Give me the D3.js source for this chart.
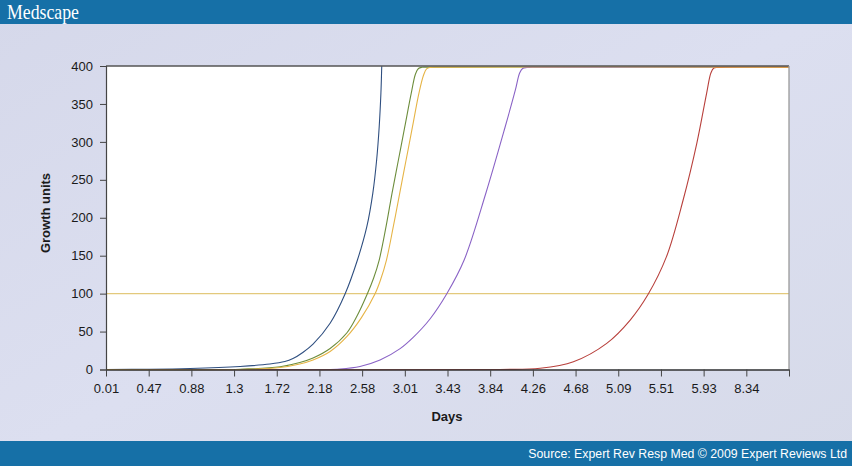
<!DOCTYPE html>
<html>
<head>
<meta charset="utf-8">
<script src="https://cdn.jsdelivr.net/npm/d3@7"></script>
<style>
html,body{margin:0;padding:0;}
body{width:852px;height:466px;overflow:hidden;}
</style>
</head>
<body>
<svg id="chart" width="852" height="466"></svg>
<script>
// ---- data ----
const dayLabels = ["0.01","0.47","0.88","1.3","1.72","2.18","2.58","3.01","3.43","3.84","4.26","4.68","5.09","5.51","5.93","8.34"];
const yTicks = [0,50,100,150,200,250,300,350,400];
const threshold = 100;
// each series: [position along day axis (tick index), growth units]
const blueSeries = [[0,0],[1.03,0.3],[1.97,1.3],[3.14,4.0],[3.84,7.2],[4.19,10.5],[4.38,14.5],[4.61,22.5],[4.85,33.5],[5.25,61],[5.60,99.5],[5.89,144.3],[6.11,188.2],[6.25,232.2],[6.34,276.1],[6.40,320],[6.44,364],[6.46,400],[6.48,434]];
const greenSeries = [[0,0],[3.14,0.3],[4.08,3.7],[4.54,9.2],[4.85,15.2],[5.25,27.7],[5.64,48.1],[5.88,70.5],[6.12,99.5],[6.27,120.6],[6.40,144.3],[6.56,188.2],[6.70,232.2],[6.85,276.1],[7.00,320],[7.15,364],[7.25,389.5],[7.32,396.7],[7.40,398.3],[7.52,398.5],[16,398.5]];
const yellowSeries = [[0,0],[3.37,0.3],[4.08,2.6],[4.54,7.2],[4.85,12.5],[5.25,23.7],[5.64,43.2],[5.98,68],[6.30,99.5],[6.43,118],[6.57,144.3],[6.73,188.2],[6.88,232.2],[7.03,276.1],[7.18,320],[7.33,364],[7.44,388.1],[7.51,396.1],[7.59,398],[7.73,398.5],[16,398.5]];
const purpleSeries = [[0,0],[5.01,0],[5.48,0.7],[5.95,4.0],[6.42,12.5],[6.89,27.5],[7.19,42],[7.59,66.6],[7.98,99.5],[8.39,144.3],[8.90,232.6],[9.35,319.6],[9.59,368.4],[9.69,390.8],[9.76,396.7],[9.86,398],[10.0,398.5],[16,398.5]];
const redSeries = [[0,0],[9.23,0],[10.17,1.6],[10.95,10.3],[11.73,34.5],[12.28,65.2],[12.70,99.1],[13.13,148.7],[13.52,223.4],[13.84,298.1],[14.07,364],[14.17,390.8],[14.24,397.4],[14.34,398],[14.5,398.5],[16,398.5]];
const seriesList = [
  {name:"blue", values:blueSeries, color:"#2f4f80"},
  {name:"green", values:greenSeries, color:"#6d8d3c"},
  {name:"purple", values:purpleSeries, color:"#8a63c6"},
  {name:"red", values:redSeries, color:"#b8403c"},
  {name:"yellow", values:yellowSeries, color:"#e6b446"}
];

(function(){
// ---- layout ----
const W = 852, H = 466;
const pL = 106, pR = 789, pT = 66, pB = 369.5;
const svg = d3.select("#chart");

const defs = svg.append("defs");
const bg = defs.append("linearGradient").attr("id","bg").attr("x1","0").attr("y1","0").attr("x2","1").attr("y2","1");
bg.append("stop").attr("offset","0").attr("stop-color","#d5d8ea");
bg.append("stop").attr("offset","0.5").attr("stop-color","#dcdff0");
bg.append("stop").attr("offset","1").attr("stop-color","#d6dae9");
defs.append("clipPath").attr("id","plotclip").append("rect")
  .attr("x",pL).attr("y",pT).attr("width",pR-pL).attr("height",pB-pT+1);

svg.append("rect").attr("width",W).attr("height",H).attr("fill","url(#bg)");
// header / footer bars
svg.append("rect").attr("x",0).attr("y",0).attr("width",W).attr("height",24).attr("fill","#1670a7");
svg.append("rect").attr("x",0).attr("y",441).attr("width",W).attr("height",25).attr("fill","#1670a7");
svg.append("text").attr("x",7).attr("y",19).text("Medscape")
  .attr("font-family","'Liberation Serif', 'DejaVu Serif', serif").attr("font-size",21)
  .attr("textLength",72).attr("lengthAdjust","spacingAndGlyphs")
  .attr("fill","#ffffff");
svg.append("text").attr("x",847).attr("y",458).attr("text-anchor","end")
  .text("Source: Expert Rev Resp Med \u00A9 2009 Expert Reviews Ltd")
  .attr("font-family","'Liberation Sans', Arial, sans-serif").attr("font-size",12.3)
  .attr("fill","#ffffff");

// scales
const x = d3.scaleLinear().domain([0, dayLabels.length]).range([pL, pR]);
const y = d3.scaleLinear().domain([0, 400]).range([pB, pT]);

// plot area
svg.append("rect").attr("x",pL).attr("y",pT).attr("width",pR-pL).attr("height",pB-pT)
  .attr("fill","#ffffff");

// threshold line
svg.append("line").attr("x1",pL).attr("x2",pR).attr("y1",y(threshold)).attr("y2",y(threshold))
  .attr("stroke","#e3c97c").attr("stroke-width",1.1);

// curves
const line = d3.line().x(d=>x(d[0])).y(d=>y(d[1])).curve(d3.curveCatmullRom.alpha(0.5));
const g = svg.append("g").attr("clip-path","url(#plotclip)");
seriesList.forEach(s=>{
  g.append("path").datum(s.values).attr("d",line)
    .attr("fill","none").attr("stroke",s.color).attr("stroke-width",1.1);
});

// frame top/right
svg.append("line").attr("x1",pL).attr("x2",pR).attr("y1",pT).attr("y2",pT)
  .attr("stroke","#555555").attr("stroke-width",1.3);
svg.append("line").attr("x1",pR).attr("x2",pR).attr("y1",pT).attr("y2",pB)
  .attr("stroke","#9a9a9a").attr("stroke-width",1.3);

const font = "'Liberation Sans', Arial, sans-serif";
// y axis
const yAxis = d3.axisLeft(y).tickValues(yTicks).tickSize(6).tickPadding(7).tickFormat(d3.format("d"));
const ya = svg.append("g").attr("transform",`translate(${pL},0)`).call(yAxis);
ya.select(".domain").attr("stroke","#444").attr("stroke-width",1.2);
ya.selectAll(".tick line").attr("stroke","#444");
ya.selectAll("text").attr("font-family",font).attr("font-size",13).attr("fill","#1a1a1a");

// x axis
const tickIdx = d3.range(0, dayLabels.length + 1);
const xAxis = d3.axisBottom(x).tickValues(tickIdx).tickSize(7).tickSizeOuter(0).tickPadding(7)
  .tickFormat(i => i < dayLabels.length ? dayLabels[i] : "");
const xa = svg.append("g").attr("transform",`translate(0,${pB})`).call(xAxis);
xa.select(".domain").attr("stroke","#333").attr("stroke-width",1.4);
xa.selectAll(".tick line").attr("stroke","#444");
xa.selectAll("text").attr("font-family",font).attr("font-size",13).attr("fill","#1a1a1a");

// axis titles
svg.append("text").attr("x",447).attr("y",421).attr("text-anchor","middle").text("Days")
  .attr("font-family",font).attr("font-size",13).attr("font-weight","bold").attr("fill","#1a1a1a");
svg.append("text").attr("transform","translate(50,213) rotate(-90)").attr("text-anchor","middle").text("Growth units")
  .attr("font-family",font).attr("font-size",13).attr("font-weight","bold").attr("fill","#1a1a1a");
})();
</script>
</body>
</html>
